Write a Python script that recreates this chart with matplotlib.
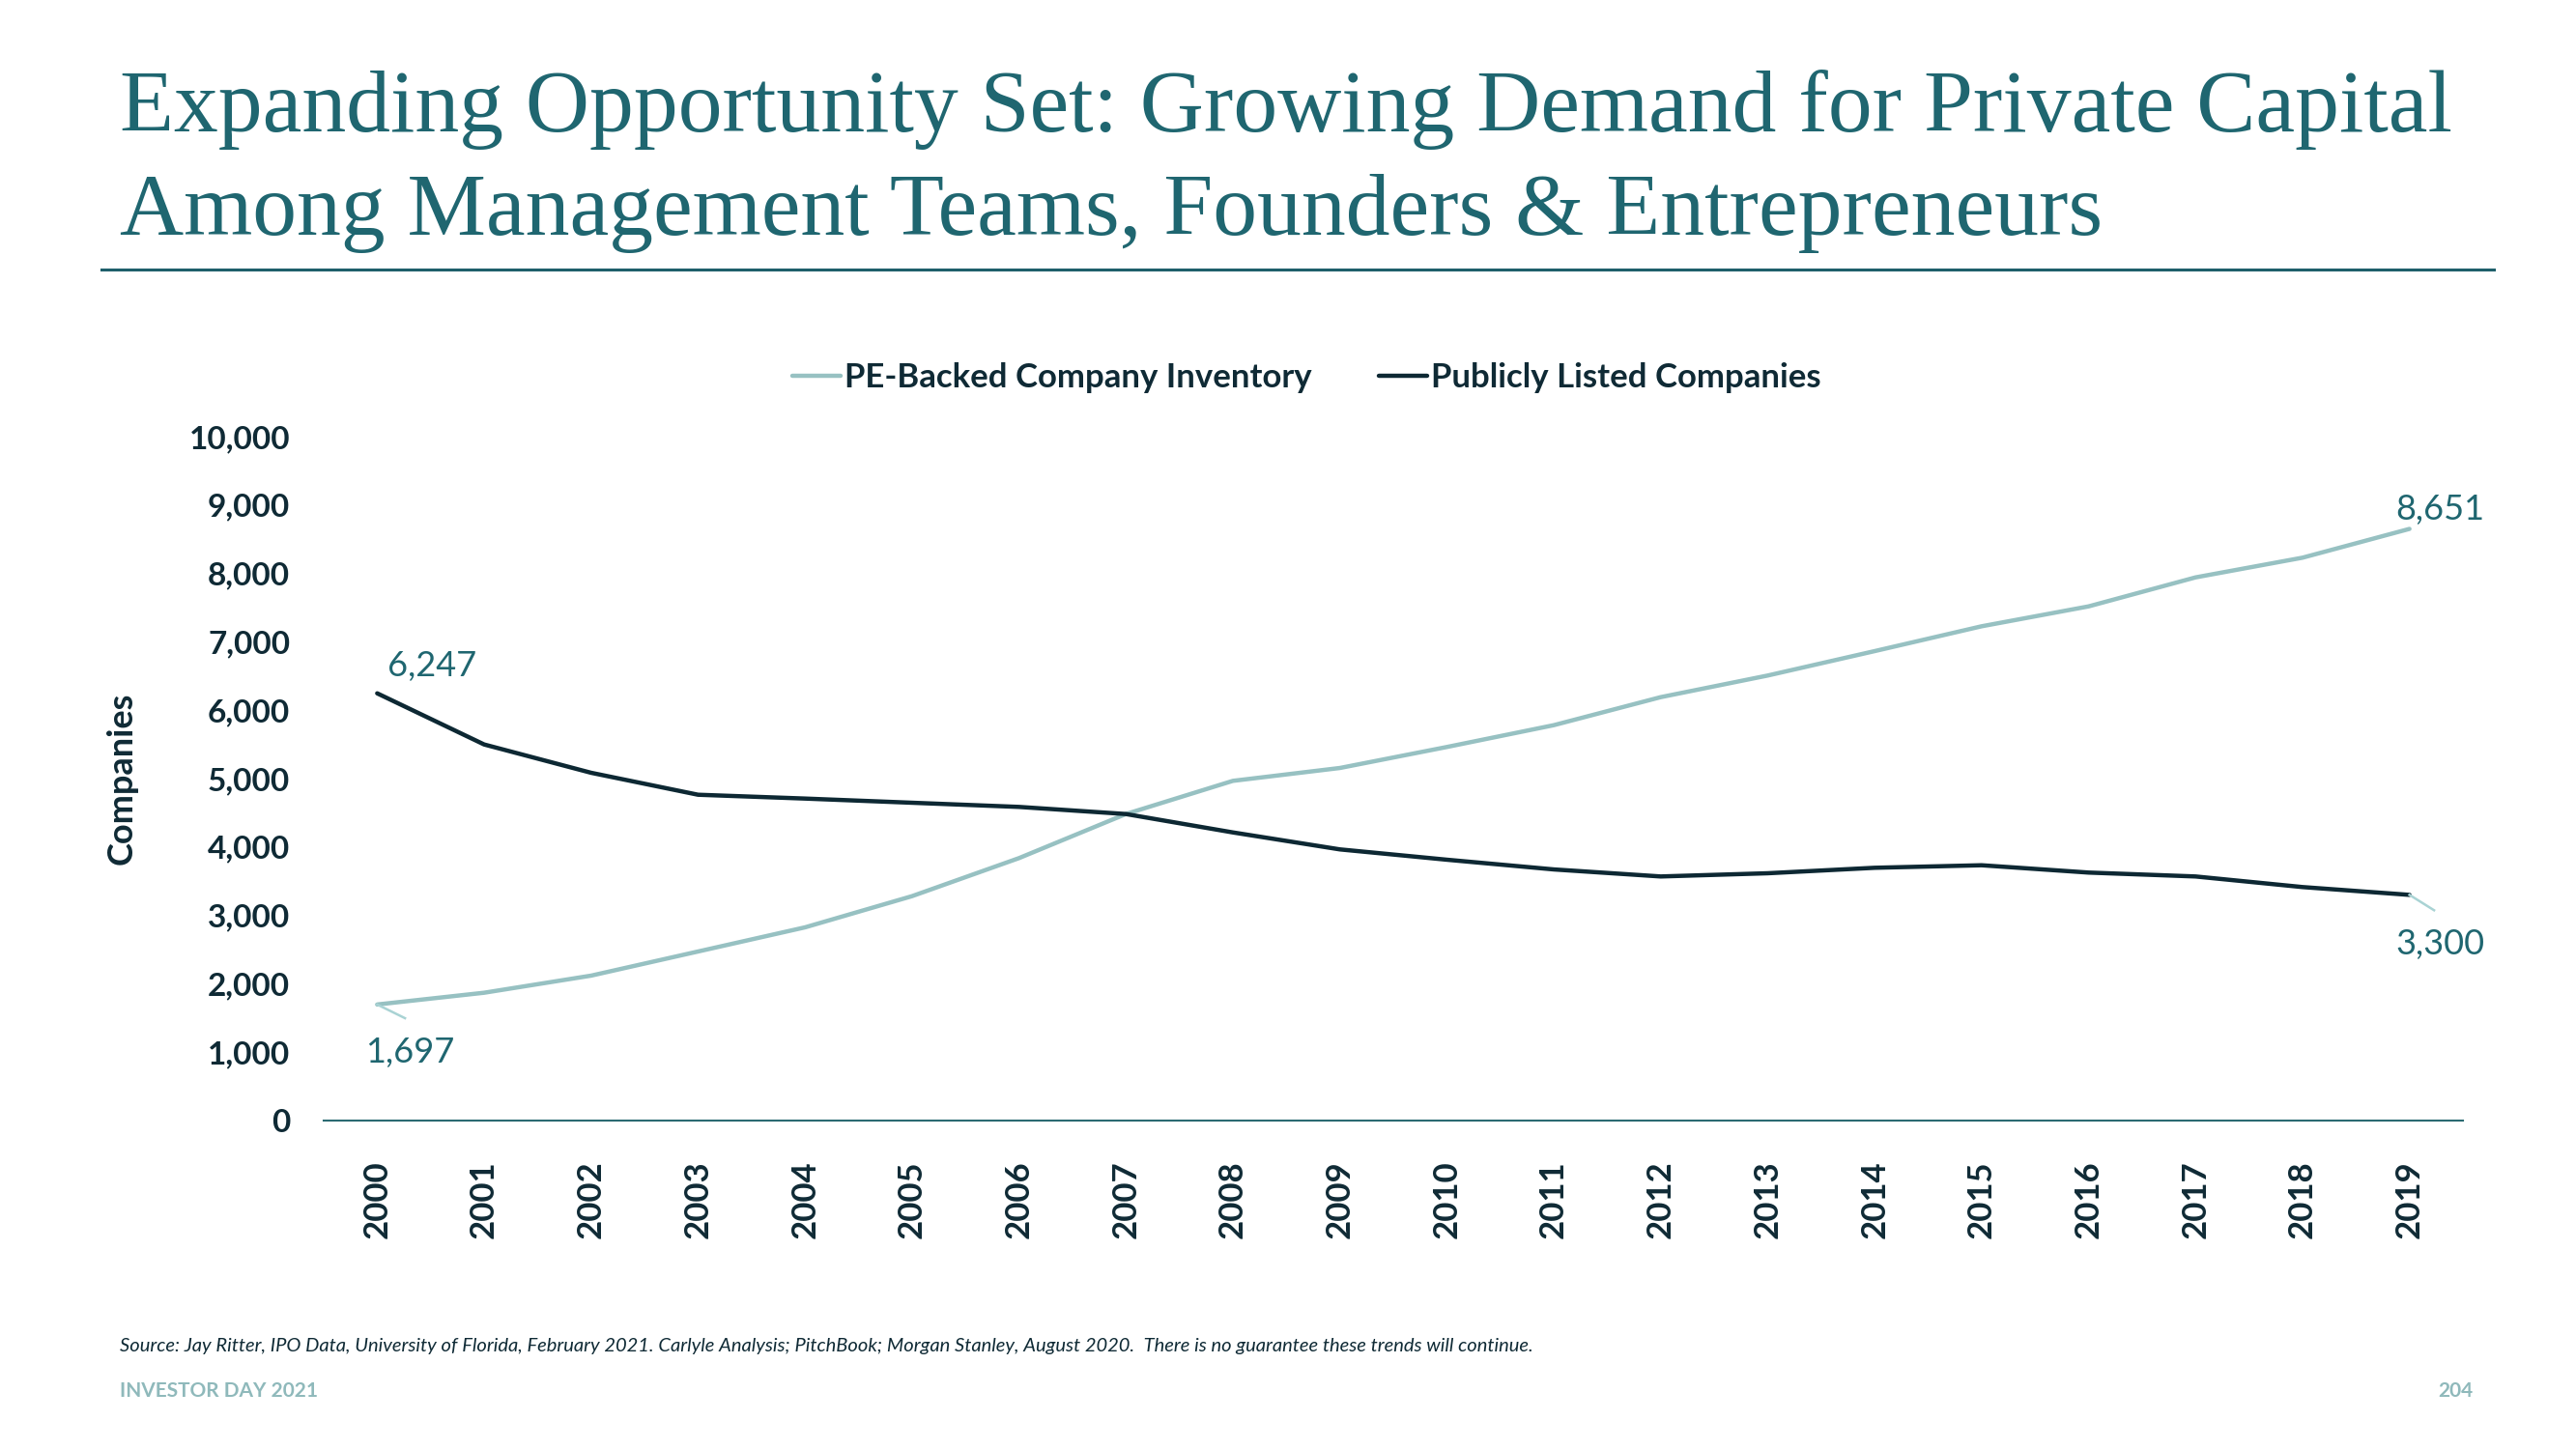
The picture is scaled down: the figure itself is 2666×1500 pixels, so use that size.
import matplotlib
matplotlib.use("Agg")
import matplotlib.pyplot as plt
from matplotlib.ticker import FuncFormatter, FixedLocator

years = [str(y) for y in range(2000, 2020)]
pe_backed = [1697, 1869, 2119, 2472, 2825, 3281, 3837, 4482, 4967, 5155,
             5462, 5781, 6191, 6507, 6864, 7227, 7518, 7942, 8230, 8651]
public_cos = [6247, 5499, 5085, 4764, 4708, 4647, 4586, 4482, 4213, 3965,
              3814, 3672, 3569, 3616, 3696, 3733, 3626, 3569, 3414, 3300]
y_ticks = list(range(0, 10001, 1000))

TEAL = "#1f6670"
PE_COL = "#97c1c2"
PUB_COL = "#0d2833"
TEXT_DARK = "#0f2a35"
LIGHT = "#8fb9bb"

W, H = 2666, 1500
fig = plt.figure(figsize=(W / 100, H / 100), dpi=100)
fig.patch.set_facecolor("white")

def fx(px):
    return px / W

def fy(py):
    return 1 - py / H

sans = ["Lato", "DejaVu Sans"]
serif = ["Liberation Serif", "DejaVu Serif"]

# Title
fig.text(fx(124), fy(136), "Expanding Opportunity Set: Growing Demand for Private Capital",
         family=serif, fontsize=66, color=TEAL, ha="left", va="baseline")
fig.text(fx(124), fy(243), "Among Management Teams, Founders & Entrepreneurs",
         family=serif, fontsize=66, color=TEAL, ha="left", va="baseline")
fig.add_artist(plt.Line2D([fx(105), fx(2581)], [fy(279), fy(279)], color="#1f5f6b", lw=2.2))

# Axes
left, right = 335, 2549
bottom, top = 1160, 452
ax = fig.add_axes([fx(left), fy(bottom), (right - left) / W, (bottom - top) / H])
x = list(range(len(years)))
ax.plot(x, pe_backed, color=PE_COL, lw=3.2, solid_capstyle="round", label="PE-Backed Company Inventory")
ax.plot(x, public_cos, color=PUB_COL, lw=3.2, solid_capstyle="round", label="Publicly Listed Companies")
ax.set_xlim(-0.5, len(years) - 0.5)
ax.set_ylim(0, 10000)
ax.yaxis.set_major_locator(FixedLocator(y_ticks))
ax.yaxis.set_major_formatter(FuncFormatter(lambda v, p: f"{int(v):,}"))
ax.set_xticks(x)
ax.set_xticklabels(years, rotation=90, fontsize=25, color=TEXT_DARK, family=sans, fontweight="bold")
for lab in ax.get_yticklabels():
    lab.set_fontsize(24)
    lab.set_color(TEXT_DARK)
    lab.set_family(sans)
    lab.set_fontweight("bold")
ax.tick_params(axis="y", length=0, pad=25)
ax.tick_params(axis="x", length=0, pad=30)
for s in ["top", "right", "left"]:
    ax.spines[s].set_visible(False)
ax.spines["bottom"].set_color("#2b6a72")
ax.spines["bottom"].set_linewidth(1.5)
ax.set_facecolor("none")
ax.set_ylabel("Companies", fontsize=26, color=TEXT_DARK, family=sans, fontweight="bold")
ax.yaxis.set_label_coords(-(left - 143) / (right - left), 0.5)

# Data labels
ax.annotate(f"{public_cos[0]:,}", xy=(0, public_cos[0]), xytext=(11, 18), textcoords="offset pixels",
            fontsize=26, color=TEAL, family=sans, ha="left", va="baseline")
ax.annotate(f"{pe_backed[0]:,}", xy=(0, pe_backed[0]), xytext=(-12, -60), textcoords="offset pixels",
            fontsize=26, color=TEAL, family=sans, ha="left", va="baseline")
ax.plot([0, 0.26], [pe_backed[0], pe_backed[0] - 200], color="#a9d3d4", lw=1.8)
ax.annotate(f"{pe_backed[-1]:,}", xy=(19, pe_backed[-1]), xytext=(78, 10), textcoords="offset pixels",
            fontsize=26, color=TEAL, family=sans, ha="right", va="baseline")
ax.annotate(f"{public_cos[-1]:,}", xy=(19, public_cos[-1]), xytext=(78, -62), textcoords="offset pixels",
            fontsize=26, color=TEAL, family=sans, ha="right", va="baseline")
ax.plot([19, 19.23], [public_cos[-1], public_cos[-1] - 225], color="#a9d3d4", lw=1.8)

# Legend
leg = fig.legend(loc="center", bbox_to_anchor=(fx(1352), fy(391)), ncol=2, frameon=False,
                 handlelength=1.45, handletextpad=0.1, columnspacing=2.0,
                 prop={"family": sans, "size": 25, "weight": "bold"})
for t in leg.get_texts():
    t.set_color(TEXT_DARK)

# Footer
fig.text(fx(124), fy(1394), "Source: Jay Ritter, IPO Data, University of Florida, February 2021. Carlyle Analysis; PitchBook; Morgan Stanley, August 2020.  There is no guarantee these trends will continue.",
         fontsize=14.5, style="italic", color=TEXT_DARK, family=sans, ha="left", va="center")
fig.text(fx(124), fy(1440), "INVESTOR DAY 2021", fontsize=15, color=LIGHT, family=sans,
         fontweight="bold", ha="left", va="center")
fig.text(fx(2559), fy(1440), "204", fontsize=15, color=LIGHT, family=sans,
         fontweight="bold", ha="right", va="center")

fig.savefig("out.png", dpi=100, facecolor="white")
